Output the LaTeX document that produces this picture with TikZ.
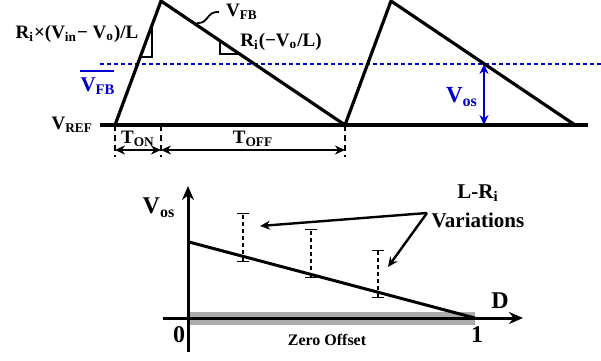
\documentclass[tikz,border=0pt]{standalone}
\usepackage{fontspec}
\setmainfont{Liberation Serif}
\usetikzlibrary{calc}
\usetikzlibrary{positioning}
\usetikzlibrary{arrows.meta}
\definecolor{fbblue}{RGB}{0,0,204}
\newcommand{\sbs}[1]{\textsubscript{#1}}

\begin{document}
\begin{tikzpicture}[x=0.5pt, y=-0.5pt, >={Stealth[length=5pt, width=4.5pt]},
    font=\bfseries\fontsize{9.5}{11}\selectfont,
    wave/.style={line width=1.6pt, line join=miter},
    marker/.style={line width=0.7pt},
    guide/.style={dashed, line width=1.2pt, dash pattern=on 3pt off 2pt},
    span/.style={<->, line width=1pt},
    bar/.style={dashed, line width=0.7pt, dash pattern=on 2pt off 1.5pt, |-|},
    big/.style={font=\bfseries\fontsize{12}{14}\selectfont},
    mid/.style={font=\bfseries\fontsize{10.5}{12}\selectfont}]
    \useasboundingbox (0,0) rectangle (601,360);

    % 1. Corner points of the inductor ripple waveform
    \coordinate (b0) at (100,125);
    \coordinate (b1) at (588,125);
    \coordinate (s1) at (115,125);
    \coordinate (p1) at (161,1);
    \coordinate (s2) at (345,125);
    \coordinate (p2) at (391,1);
    \coordinate (e2) at (575,125);

    % 2. Average feedback level (blue dotted) and V_os
    \draw[fbblue, line width=1pt, dash pattern=on 2pt off 1.5pt] (100,64) -- (601,64);
    \coordinate (os1) at (484,64);
    \coordinate (os0) at (484,125);
    \draw[<->, fbblue, line width=1.3pt] (os1) -- (os0);
    \node[fbblue, font=\bfseries\fontsize{11.5}{13}\selectfont] (vos) at (462,97) {V\sbs{os}};
    \node[fbblue, mid, inner sep=0pt] (vfbbar) at (98,86) {V\sbs{FB}};
    \draw[fbblue, line width=1.2pt] ([yshift=3pt]vfbbar.north west) -- ([xshift=-1pt, yshift=3pt]vfbbar.north east);

    % 3. Baseline and waveform
    \draw[wave] (b0) -- (b1);
    \draw[wave] (s1) -- (p1) -- (s2) -- (p2) -- (e2);
    \node[anchor=east] (vref) at (b0) {V\sbs{REF}};

    % 4. Slope markers and labels
    \draw[marker] (152,25) -- (152,57) -- (140,57);
    \draw[marker] (220,41) -- (220,54) -- (240,54);
    \node (slopeup) at (77,34) {R\sbs{i}×(V\sbs{in}− V\sbs{o})/L};
    \node (slopedn) at (281,42) {R\sbs{i}(−V\sbs{o}/L)};
    \coordinate (sq) at (197,23);
    \node[anchor=west] (vfb) at (219,12) {V\sbs{FB}};
    \draw[line width=0.9pt] (sq) .. controls (209,24) and (206,11) .. (vfb.west);

    % 5. Switching intervals
    \coordinate (t0) at (115,157);
    \coordinate (t1) at (161,157);
    \coordinate (t2) at (345,157);
    \draw[guide] (s1) -- (t0);
    \draw[guide] (161,125) -- (t1);
    \draw[guide] (s2) -- (t2);
    \draw[span] (115,150) -- (161,150) node[midway, above=-2pt] (ton) {T\sbs{ON}};
    \draw[span] (161,150) -- (345,150) node[midway, above=-2pt] (toff) {T\sbs{OFF}};

    % 6. Offset versus duty cycle
    \fill[gray!65] (189,312) rectangle (475,325);
    \coordinate (org) at (188,318);
    \draw[-{Stealth[length=7pt, width=6pt]}, line width=1.5pt] (188,352) -- (188,186);
    \draw[-{Stealth[length=7pt, width=6pt]}, line width=1.5pt] (163,318) -- (523,318);
    \draw[line width=1.5pt] (189,242) -- (475,318);
    \draw[bar] (243,262) -- (243,213);
    \draw[bar] (311,278) -- (311,229);
    \draw[bar] (378,298) -- (378,250);
    \node[big] (vosax) at (159,208) {V\sbs{os}};
    \node[big] (dax) at (500,301) {D};
    \node[big] (zero) at (179,335) {0};
    \node[big] (one) at (477,335) {1};
    \node[font=\bfseries\fontsize{8}{9}\selectfont] (zoff) at (327,340) {Zero Offset};
    \node[mid] (lri) at (478,193) {L-R\sbs{i}};
    \node[mid] (var) at (478,220) {Variations};
    \coordinate (vsrc) at (427,213);
    \draw[->, line width=1.2pt] (vsrc) -- (260,226);
    \draw[->, line width=1.2pt] (vsrc) -- (388,267);
\end{tikzpicture}
\end{document}
